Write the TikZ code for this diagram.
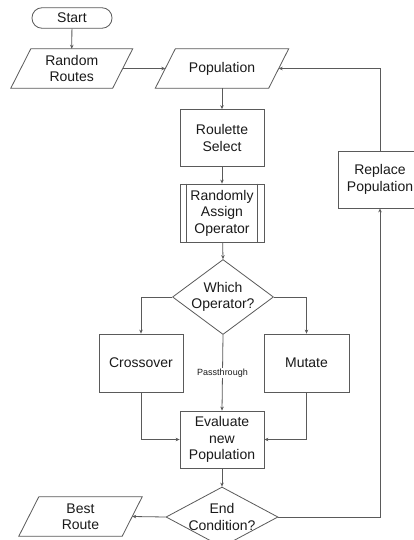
\documentclass[tikz,border=0pt]{standalone}
\usepackage{fontspec}
\setmainfont{Liberation Sans}
\usetikzlibrary{shapes.geometric,arrows.meta}
\definecolor{ln}{HTML}{5A5A5A}
\definecolor{tx}{HTML}{1A1A1A}
\begin{document}
\begin{tikzpicture}[x=1pt,y=-1pt,
  every node/.style={text=tx,font=\fontsize{14}{16.5}\selectfont,align=center},
  ln/.style={draw=ln,line width=0.8pt},
  arr/.style={ln,-{Stealth[length=4pt,width=3.5pt]}},
  procbox/.style={ln,rectangle,minimum width=84pt,minimum height=57pt,inner sep=0pt},
  parabox/.style={rectangle,minimum height=39pt,inner sep=0pt},
  diabox/.style={ln,diamond,inner sep=0pt}
]
\useasboundingbox (0,0) rectangle (414,540);
\fill[white] (0,0) rectangle (414,540);

% Start
\node[ln,rectangle,rounded corners=10pt,minimum width=80pt,minimum height=20.5pt,inner sep=0pt] (start) at (72,18) {Start};

% Random Routes (parallelogram)
\node[parabox,minimum width=101.5pt] (rr) at (71.75,68.5) {Random\\Routes};
\draw[ln] ([xshift=10pt]rr.north west) -- ([xshift=10pt]rr.north east) -- ([xshift=-10pt]rr.south east) -- ([xshift=-10pt]rr.south west) -- cycle;

% Population
\node[parabox,minimum width=113pt] (pop) at (222,68.5) {Population};
\draw[ln] ([xshift=10pt]pop.north west) -- ([xshift=10pt]pop.north east) -- ([xshift=-10pt]pop.south east) -- ([xshift=-10pt]pop.south west) -- cycle;

% Roulette Select
\node[procbox] (rs) at (222,138) {Roulette\\Select};

% Randomly Assign Operator (predefined process)
\node[procbox,minimum height=58pt] (rao) at (222,213) {Randomly\\Assign\\Operator};
\draw[ln] ([xshift=7pt]rao.north west) -- ([xshift=7pt]rao.south west);
\draw[ln] ([xshift=-7pt]rao.north east) -- ([xshift=-7pt]rao.south east);

% Which Operator diamond
\node[diabox,minimum width=101pt,minimum height=75pt] (which) at (223,297) {};
\node (whichtxt) at (which.center) {Which\\Operator?};

% Crossover / Mutate
\node[procbox,minimum width=84pt,minimum height=58pt] (cross) at (141,363) {Crossover};
\node[procbox,minimum width=85pt,minimum height=58pt] (mut) at (306.5,363) {Mutate};

% Evaluate
\node[procbox,minimum height=57pt] (eval) at (222,439.5) {Evaluate\\new\\Population};

% End Condition diamond
\node[diabox,minimum width=112pt,minimum height=60pt] (endc) at (222,517) {};
\node (endtxt) at (endc.center) {End\\Condition?};

% Best Route
\node[parabox,minimum width=103pt] (best) at (80.5,516.5) {Best\\Route};
\draw[ln] ([xshift=10pt]best.north west) -- ([xshift=10pt]best.north east) -- ([xshift=-10pt]best.south east) -- ([xshift=-10pt]best.south west) -- cycle;

% Replace Population
\node[procbox,minimum width=84pt,minimum height=57pt] (rep) at (380,179.5) {Replace\\Population};

% Connectors
\draw[arr] (start) -- (rr.north);
\draw[arr] (rr.east) -- (pop.west);
\draw[arr] (pop) -- (rs);
\draw[arr] (rs) -- (rao);
\draw[arr] (rao) -- (which.north);
\draw[arr] (which.west) -| (cross.north);
\draw[arr] (which.east) -| (mut.north);
\draw[arr] (which.south) -- node[pos=0.5,fill=white,inner sep=1pt,font=\fontsize{9}{10}\selectfont] (pt) {Passthrough} (eval.north);
\draw[arr] (cross.south) |- (eval.west);
\draw[arr] (mut.south) |- (eval.east);
\draw[arr] (eval) -- (endc.north);
\draw[arr] (endc.west) -- (best.east);
\draw[arr] (endc.east) -| (rep.south);
\draw[arr] (rep.north) |- (pop.east);
\end{tikzpicture}
\end{document}
